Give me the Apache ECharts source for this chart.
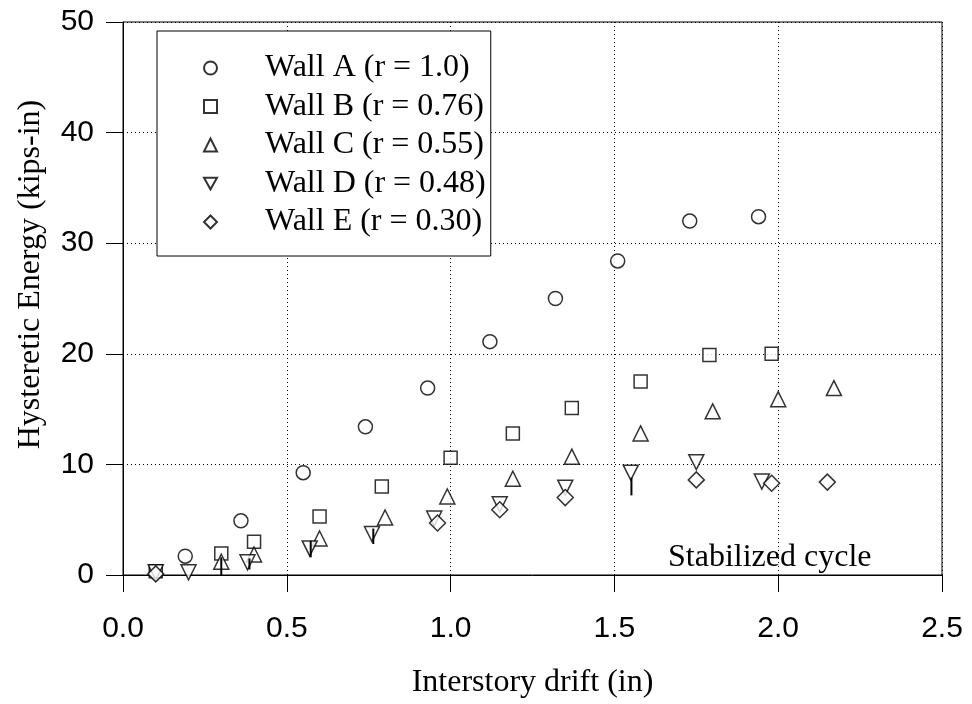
<!DOCTYPE html>
<html>
<head>
<meta charset="utf-8">
<title>Hysteretic energy vs interstory drift</title>
<script src="https://cdn.jsdelivr.net/npm/echarts@6/dist/echarts.min.js"></script>
<style>
  html, body { margin: 0; padding: 0; background: #fff; }
  #chart { width: 972px; height: 704px; }
</style>
</head>
<body>
<div id="chart"></div>
<script>
// drift (in), hysteretic energy (kips-in)
const wallA = [[0.19, 1.7], [0.36, 4.9], [0.55, 9.25], [0.74, 13.4], [0.93, 16.9], [1.12, 21.1], [1.32, 25.0], [1.51, 28.4], [1.73, 32.0], [1.94, 32.4]]
const wallB = [[0.1, 0.35], [0.3, 1.95], [0.4, 3.0], [0.6, 5.3], [0.79, 8.0], [1.0, 10.6], [1.19, 12.8], [1.37, 15.1], [1.58, 17.5], [1.79, 19.9], [1.98, 20.0]]
const wallC = [[0.3, 1.2], [0.4, 1.85], [0.6, 3.3], [0.8, 5.2], [0.99, 7.1], [1.19, 8.7], [1.37, 10.7], [1.58, 12.8], [1.8, 14.8], [2.0, 15.9], [2.17, 16.9]]
const wallD = [[0.1, 0.25], [0.2, 0.25], [0.38, 1.15], [0.57, 2.4], [0.76, 3.7], [0.95, 5.1], [1.15, 6.4], [1.35, 7.9], [1.55, 9.25], [1.75, 10.2], [1.95, 8.45]]
const wallE = [[0.1, 0.1], [0.96, 4.7], [1.15, 5.9], [1.35, 7.0], [1.75, 8.6], [1.98, 8.3], [2.15, 8.4]]
// vertical stems under some points: [drift, top, bottom]
const stems = [[0.3, 1.6, 0.0], [0.386, 1.5, 0.5], [0.573, 3.1, 1.6], [0.764, 4.2, 2.8], [1.552, 8.8, 7.2]]

const wallNames = ['Wall A (r = 1.0)', 'Wall B (r = 0.76)', 'Wall C (r = 0.55)', 'Wall D (r = 0.48)', 'Wall E (r = 0.30)']

const SANS = '"Liberation Sans", Arial, sans-serif'
const SERIF = '"Liberation Serif", "Times New Roman", serif'
// down-pointing triangle, used for both the points and the legend
const DOWN_TRIANGLE = 'path://M0,0 L10,0 L5,9 Z'

const chart = echarts.init(document.getElementById('chart'))

function markerSeries(name, data, symbol, size) {
  return {
    name: name,
    type: 'scatter',
    data: data,
    symbol: symbol,
    symbolSize: size,
    itemStyle: {
      color: '#fff',
      borderColor: '#000',
      borderWidth: 1.5
    },
    emphasis: { disabled: true }
  }
}

chart.setOption({
  animation: false,
  backgroundColor: '#fff',
  grid: {
    left: 123,
    right: 30,
    top: 22,
    bottom: 124,
    show: true,
    borderColor: '#000',
    borderWidth: 1
  },
  legend: {
    data: wallNames,
    orient: 'vertical',
    left: 157,
    top: 31,
    padding: [21, 5, 18, 46],
    itemGap: 6.5,
    itemWidth: 13,
    itemHeight: 13,
    borderColor: '#000',
    borderWidth: 1,
    backgroundColor: '#fff',
    textStyle: {
      fontFamily: SERIF,
      fontSize: 32,
      color: '#000',
      padding: [0, 0, 0, 43]
    }
  },
  xAxis: {
    type: 'value',
    min: 0,
    max: 2.5,
    interval: 0.5,
    name: 'Interstory drift (in)',
    nameLocation: 'middle',
    nameGap: 92,
    nameTextStyle: { fontFamily: SERIF, fontSize: 32, color: '#000' },
    axisLine: { lineStyle: { color: '#000', width: 1 } },
    axisTick: { show: true, length: 17, lineStyle: { color: '#000' } },
    axisLabel: {
      margin: 39,
      fontFamily: SANS,
      fontSize: 30,
      color: '#000',
      formatter: v => v.toFixed(1)
    },
    splitLine: { show: true, lineStyle: { color: '#000', type: [1, 3], width: 1 } }
  },
  yAxis: {
    type: 'value',
    min: 0,
    max: 50,
    interval: 10,
    name: 'Hysteretic Energy (kips-in)',
    nameLocation: 'middle',
    nameGap: 76,
    nameTextStyle: { fontFamily: SERIF, fontSize: 32, color: '#000', padding: [0, 0, 0, 48] },
    axisLine: { show: true, lineStyle: { color: '#000', width: 1 } },
    axisTick: { show: true, length: 17, lineStyle: { color: '#000' } },
    axisLabel: {
      margin: 29,
      fontFamily: SANS,
      fontSize: 30,
      color: '#000'
    },
    splitLine: { show: true, lineStyle: { color: '#000', type: [1, 3], width: 1 } }
  },
  graphic: [
    {
      type: 'text',
      left: 668,
      top: 542,
      style: {
        text: 'Stabilized cycle',
        fontFamily: SERIF,
        fontSize: 32,
        fill: '#000'
      }
    }
  ],
  series: [
    markerSeries(wallNames[0], wallA, 'circle', 14),
    markerSeries(wallNames[1], wallB, 'rect', 13),
    markerSeries(wallNames[2], wallC, 'triangle', 15),
    markerSeries(wallNames[3], wallD, DOWN_TRIANGLE, 15),
    markerSeries(wallNames[4], wallE, 'diamond', 16),
    {
      type: 'custom',
      name: 'stems',
      data: stems,
      z: 5,
      renderItem: function (params, api) {
        const top = api.coord([api.value(0), api.value(1)])
        const bottom = api.coord([api.value(0), api.value(2)])
        return {
          type: 'line',
          shape: { x1: top[0], y1: top[1], x2: bottom[0], y2: bottom[1] },
          style: { stroke: '#000', lineWidth: 2 }
        }
      }
    }
  ]
})
</script>
</body>
</html>
